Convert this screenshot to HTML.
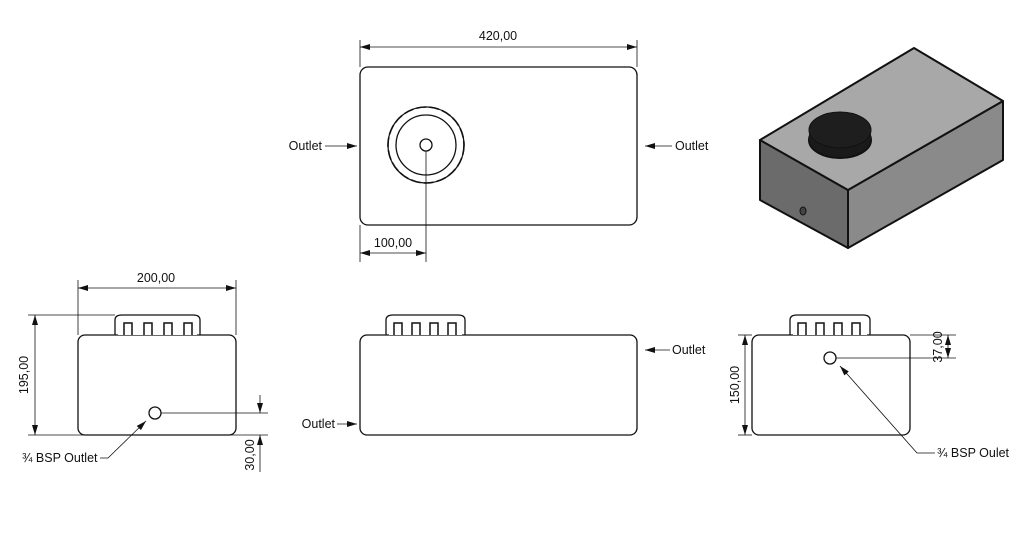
<!DOCTYPE html>
<html><head><style>body{margin:0;background:#fff}svg{display:block}text{font-family:"Liberation Sans",sans-serif;font-size:12.5px;fill:#111}</style></head>
<body>
<svg width="1024" height="533" viewBox="0 0 1024 533" xmlns="http://www.w3.org/2000/svg">
<defs>
<marker id="a" viewBox="0 0 10 6" refX="10" refY="3" markerWidth="10" markerHeight="6" orient="auto-start-reverse" markerUnits="userSpaceOnUse"><path d="M0,0L10,3L0,6z" fill="#111"/></marker>
<pattern id="k1" x="118" y="0" width="20" height="20" patternUnits="userSpaceOnUse"><rect width="20" height="20" fill="#fff"/><rect x="6" y="3" width="8" height="17" fill="none" stroke="#111" stroke-width="1.5"/></pattern>
<pattern id="k2" x="389" y="0" width="18" height="20" patternUnits="userSpaceOnUse"><rect width="18" height="20" fill="#fff"/><rect x="5" y="3" width="8" height="17" fill="none" stroke="#111" stroke-width="1.5"/></pattern>
<pattern id="k3" x="793" y="0" width="18" height="20" patternUnits="userSpaceOnUse"><rect width="18" height="20" fill="#fff"/><rect x="5" y="3" width="8" height="17" fill="none" stroke="#111" stroke-width="1.5"/></pattern>
</defs>
<g stroke="#111" stroke-width="1.3" fill="none">
<rect x="360" y="67" width="277" height="158" rx="8"/>
<line x1="360" y1="40" x2="360" y2="67" stroke-width="0.8"/><line x1="637" y1="40" x2="637" y2="67" stroke-width="0.8"/>
<line x1="360" y1="47" x2="637" y2="47" stroke-width="0.8" marker-start="url(#a)" marker-end="url(#a)"/>
<circle cx="426" cy="145" r="38" stroke-width="1.6" stroke-dasharray="10 3"/>
<circle cx="426" cy="145" r="38"/>
<circle cx="426" cy="145" r="30"/>
<circle cx="426" cy="145" r="6"/>
<line x1="426" y1="151" x2="426" y2="262" stroke-width="0.8"/>
<line x1="360" y1="225" x2="360" y2="262" stroke-width="0.8"/>
<line x1="360" y1="253" x2="426" y2="253" stroke-width="0.8" marker-start="url(#a)" marker-end="url(#a)"/>
<line x1="325" y1="146" x2="357" y2="146" stroke-width="0.8" marker-end="url(#a)"/>
<line x1="672" y1="146" x2="645" y2="146" stroke-width="0.8" marker-end="url(#a)"/>
<rect x="78" y="335" width="158" height="100" rx="7"/>
<path d="M115,335V320Q115,315 122,315H193Q200,315 200,320V335" />
<rect x="118" y="320" width="79" height="15" fill="url(#k1)" stroke="none"/>
<line x1="28" y1="315" x2="115" y2="315" stroke-width="0.8"/>
<line x1="28" y1="435" x2="268" y2="435" stroke-width="0.8"/>
<line x1="35" y1="315" x2="35" y2="435" stroke-width="0.8" marker-start="url(#a)" marker-end="url(#a)"/>
<line x1="78" y1="280" x2="78" y2="335" stroke-width="0.8"/><line x1="236" y1="280" x2="236" y2="335" stroke-width="0.8"/>
<line x1="78" y1="288" x2="236" y2="288" stroke-width="0.8" marker-start="url(#a)" marker-end="url(#a)"/>
<circle cx="155" cy="413" r="6"/>
<line x1="161" y1="413" x2="268" y2="413" stroke-width="0.8"/>
<line x1="260" y1="395" x2="260" y2="413" stroke-width="0.8" marker-end="url(#a)"/>
<line x1="260" y1="472" x2="260" y2="435" stroke-width="0.8" marker-end="url(#a)"/>
<polyline points="100,458 108,458 146,421" stroke-width="0.8" marker-end="url(#a)"/>
<rect x="360" y="335" width="277" height="100" rx="7"/>
<path d="M386,335V320Q386,315 393,315H458Q465,315 465,320V335"/>
<rect x="389" y="320" width="73" height="15" fill="url(#k2)" stroke="none"/>
<line x1="670" y1="350" x2="645" y2="350" stroke-width="0.8" marker-end="url(#a)"/>
<line x1="337" y1="424" x2="357" y2="424" stroke-width="0.8" marker-end="url(#a)"/>
<rect x="752" y="335" width="158" height="100" rx="7"/>
<path d="M790,335V320Q790,315 797,315H863Q870,315 870,320V335"/>
<rect x="793" y="320" width="74" height="15" fill="url(#k3)" stroke="none"/>
<line x1="738" y1="335" x2="752" y2="335" stroke-width="0.8"/>
<line x1="738" y1="435" x2="752" y2="435" stroke-width="0.8"/>
<line x1="745" y1="335" x2="745" y2="435" stroke-width="0.8" marker-start="url(#a)" marker-end="url(#a)"/>
<circle cx="830" cy="358" r="6"/>
<line x1="836" y1="358" x2="956" y2="358" stroke-width="0.8"/>
<line x1="910" y1="335" x2="956" y2="335" stroke-width="0.8"/>
<line x1="948" y1="335" x2="948" y2="358" stroke-width="0.8" marker-start="url(#a)" marker-end="url(#a)"/>
<polyline points="935,453 917,453 840,366" stroke-width="0.8" marker-end="url(#a)"/>
</g>
<g stroke="#111" stroke-width="2" stroke-linejoin="round">
<polygon points="760,140 848,190 848,248 760,200" fill="#6b6b6b"/>
<polygon points="848,190 1003,101 1003,160 848,248" fill="#8a8a8a"/>
<polygon points="760,140 914,48 1003,101 848,190" fill="#a8a8a8"/>
<ellipse cx="840" cy="140" rx="31" ry="18" fill="#1a1a1a"/>
<rect x="809" y="130" width="62" height="10" fill="#1a1a1a" stroke="none"/>
<ellipse cx="840" cy="130" rx="31" ry="18" fill="#1e1e1e" stroke-width="1"/>
<ellipse cx="803" cy="211" rx="3" ry="4" fill="#444" stroke-width="1"/>
</g>
<text x="498" y="40" text-anchor="middle">420,00</text>
<text x="393" y="247" text-anchor="middle">100,00</text>
<text x="322" y="150" text-anchor="end">Outlet</text>
<text x="675" y="150">Outlet</text>
<text x="156" y="282" text-anchor="middle">200,00</text>
<text x="28" y="375" text-anchor="middle" transform="rotate(-90 28 375)">195,00</text>
<text x="254" y="455" text-anchor="middle" transform="rotate(-90 254 455)">30,00</text>
<text x="22" y="462">¾ BSP Outlet</text>
<text x="672" y="354">Outlet</text>
<text x="335" y="428" text-anchor="end">Outlet</text>
<text x="739" y="385" text-anchor="middle" transform="rotate(-90 739 385)">150,00</text>
<text x="942" y="347" text-anchor="middle" transform="rotate(-90 942 347)">37,00</text>
<text x="937" y="457">¾ BSP Oulet</text>
</svg>
</body></html>
